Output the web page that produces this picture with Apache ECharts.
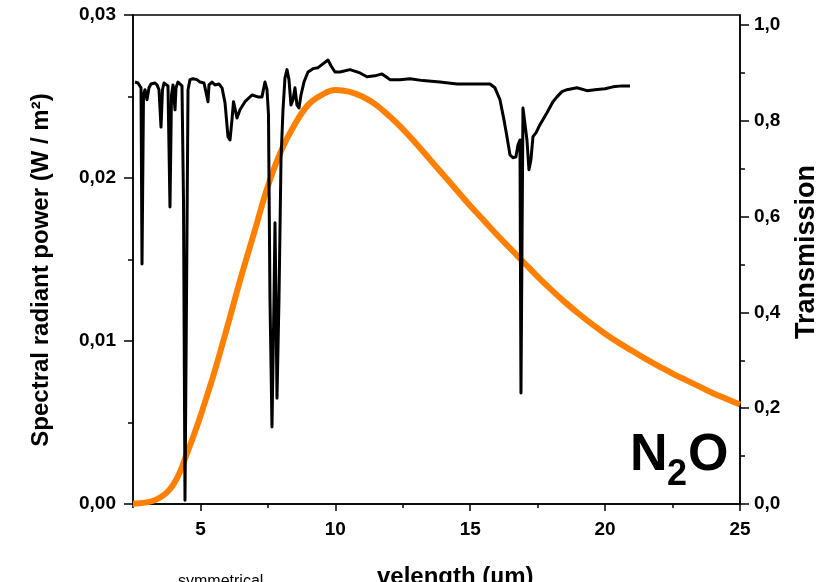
<!DOCTYPE html>
<html>
<head>
<meta charset="utf-8">
<script src="https://cdn.jsdelivr.net/npm/echarts@6/dist/echarts.min.js"></script>
<style>
html, body { margin: 0; padding: 0; background: #fff; }
#chart { width: 836px; height: 582px; }
</style>
</head>
<body>
<div id="chart"></div>
<script>
// N2O transmission spectrum (right axis)
const wavelength = [
    2.574, 2.685, 2.759, 2.797, 2.834, 2.889, 2.945, 3.019, 3.093, 3.167, 3.241, 3.315, 3.39, 3.464, 3.538,
    3.593, 3.649, 3.723, 3.797, 3.871, 3.927, 3.983, 4.057, 4.094, 4.168, 4.242, 4.316, 4.372, 4.427, 4.483,
    4.539, 4.613, 4.724, 4.872, 4.983, 5.132, 5.206, 5.28, 5.317, 5.428, 5.539, 5.613, 5.688, 5.799, 5.91,
    6.021, 6.095, 6.169, 6.225, 6.355, 6.466, 6.651, 6.911, 7.133, 7.281, 7.392, 7.467, 7.522, 7.578, 7.652,
    7.726, 7.763, 7.8, 7.837, 7.911, 7.986, 8.06, 8.134, 8.208, 8.282, 8.356, 8.43, 8.504, 8.578, 8.653,
    8.727, 8.838, 8.986, 9.172, 9.357, 9.542, 9.727, 9.839, 9.987, 10.172, 10.543, 10.914, 11.173, 11.469, 11.729,
    11.877, 12.025, 12.396, 12.767, 13.249, 13.879, 14.509, 15.102, 15.732, 15.917, 16.103, 16.251, 16.362, 16.473, 16.585,
    16.696, 16.77, 16.844, 16.881, 16.955, 17.029, 17.103, 17.177, 17.251, 17.326, 17.437, 17.585, 17.844, 18.067, 18.215,
    18.4, 18.586, 18.956, 19.327, 19.623, 19.994, 20.291, 20.624, 20.921
]
const transmission = [
    0.881, 0.879, 0.875, 0.869, 0.501, 0.854, 0.865, 0.844, 0.869, 0.877, 0.873, 0.879, 0.875, 0.865, 0.787,
    0.865, 0.879, 0.881, 0.873, 0.620, 0.854, 0.875, 0.823, 0.869, 0.881, 0.877, 0.873, 0.635, 0.008, 0.426,
    0.865, 0.886, 0.888, 0.886, 0.881, 0.879, 0.877, 0.840, 0.875, 0.881, 0.875, 0.873, 0.877, 0.869, 0.838,
    0.767, 0.760, 0.802, 0.840, 0.806, 0.823, 0.840, 0.854, 0.850, 0.850, 0.881, 0.865, 0.813, 0.426, 0.161,
    0.426, 0.587, 0.426, 0.221, 0.426, 0.719, 0.823, 0.890, 0.907, 0.886, 0.833, 0.844, 0.869, 0.833, 0.827,
    0.854, 0.881, 0.902, 0.909, 0.911, 0.919, 0.927, 0.915, 0.902, 0.902, 0.907, 0.900, 0.892, 0.894, 0.898,
    0.892, 0.886, 0.886, 0.888, 0.884, 0.881, 0.877, 0.877, 0.877, 0.869, 0.844, 0.802, 0.767, 0.729, 0.723,
    0.725, 0.750, 0.760, 0.232, 0.827, 0.823, 0.760, 0.698, 0.719, 0.767, 0.775, 0.792, 0.817, 0.840, 0.850,
    0.861, 0.865, 0.869, 0.863, 0.865, 0.867, 0.871, 0.873, 0.873
]
// blackbody curve (left axis)
const bbWavelength = [
    2.5, 2.75, 3.0, 3.25, 3.5, 3.75, 4.0, 4.25, 4.5, 4.75, 5.0, 5.5, 6.0, 6.5, 7.0,
    7.5, 8.0, 8.5, 9.0, 9.5, 10.0, 10.5, 11.0, 11.5, 12.0, 12.5, 13.0, 13.5, 14.0, 14.5,
    15.0, 15.5, 16.0, 16.5, 17.0, 17.5, 18.0, 18.5, 19.0, 19.5, 20.0, 20.5, 21.0, 21.5, 22.0,
    22.5, 23.0, 23.5, 24.0, 24.5, 25.0
]
const bbPower = [
    0.00002, 0.00004, 0.0001, 0.0002, 0.0004, 0.0007, 0.0012, 0.0020, 0.0031, 0.0042, 0.0054, 0.0080, 0.0109, 0.0139, 0.0167,
    0.0195, 0.0217, 0.0233, 0.0245, 0.0251, 0.0254, 0.0253, 0.0250, 0.0245, 0.0238, 0.0230, 0.0221, 0.02115, 0.0202, 0.01925,
    0.0183, 0.0174, 0.0165, 0.01565, 0.0148, 0.01395, 0.01315, 0.0124, 0.0117, 0.01105, 0.01045, 0.0099, 0.0094, 0.0089, 0.00845,
    0.0080, 0.0076, 0.0072, 0.0068, 0.00645, 0.0061
]
const xTicks = [5, 10, 15, 20, 25]
const xMinorTicks = [2.5, 7.5, 12.5, 17.5, 22.5]
const transTicks = [0, 0.2, 0.4, 0.6, 0.8, 1.0]
const transMinorTicks = [0.1, 0.3, 0.5, 0.7, 0.9]

const font = "'Liberation Sans', Arial, sans-serif"
const labelStyle = { color: '#000', fontFamily: font, fontWeight: 'bold', fontSize: 19 }
const lineStyle = { color: '#000', width: 1.5 }

const chart = echarts.init(document.getElementById('chart'))
chart.setOption({
    animation: false,
    backgroundColor: '#fff',
    grid: {
        left: 133, right: 96, top: 15, bottom: 78,
        show: true, borderColor: '#000', borderWidth: 1.5
    },
    xAxis: [{
        type: 'value', min: 2.5, max: 25, position: 'bottom',
        axisLine: { lineStyle },
        axisTick: { customValues: xTicks, length: 7, lineStyle },
        axisLabel: Object.assign({ customValues: xTicks, margin: 16 }, labelStyle),
        splitLine: { show: false }
    }, {
        type: 'value', min: 2.5, max: 25, position: 'bottom',
        axisLine: { show: false },
        axisTick: { customValues: xMinorTicks, length: 4, lineStyle },
        axisLabel: { show: false },
        splitLine: { show: false }
    }],
    yAxis: [{
        type: 'value', min: 0, max: 0.03, interval: 0.01, position: 'left',
        axisLine: { show: true, lineStyle },
        axisTick: { show: true, length: 9, lineStyle },
        minorTick: { show: true, splitNumber: 2, length: 5, lineStyle },
        axisLabel: Object.assign({
            margin: 17,
            formatter: v => v.toFixed(2).replace('.', ',')
        }, labelStyle),
        splitLine: { show: false }
    }, {
        type: 'value', min: 0, max: 1.021, position: 'right',
        axisLine: { show: true, lineStyle },
        axisTick: { show: true, customValues: transTicks, length: 9, lineStyle },
        axisLabel: Object.assign({
            customValues: transTicks, margin: 14,
            formatter: v => v.toFixed(1).replace('.', ',')
        }, labelStyle),
        splitLine: { show: false }
    }, {
        type: 'value', min: 0, max: 1.021, position: 'right',
        axisLine: { show: false },
        axisTick: { show: true, customValues: transMinorTicks, length: 5, lineStyle },
        axisLabel: { show: false },
        splitLine: { show: false }
    }],
    series: [{
        name: 'blackbody',
        type: 'line',
        xAxisIndex: 0, yAxisIndex: 0,
        smooth: 0.4,
        showSymbol: false,
        lineStyle: { color: '#ff7f00', width: 6 },
        data: bbWavelength.map((w, i) => [w, bbPower[i]]),
        z: 2
    }, {
        name: 'N2O',
        type: 'line',
        xAxisIndex: 0, yAxisIndex: 1,
        showSymbol: false,
        lineStyle: { color: '#000', width: 3, join: 'round' },
        data: wavelength.map((w, i) => [w, transmission[i]]),
        z: 3
    }],
    graphic: [
        { type: 'text', x: 41, y: 270, rotation: Math.PI / 2,
          style: { text: 'Spectral radiant power (W / m²)', font: 'bold 24px ' + font, fill: '#000', align: 'center', verticalAlign: 'middle' } },
        { type: 'text', x: 807, y: 252, rotation: Math.PI / 2,
          style: { text: 'Transmission', font: 'bold 27px ' + font, fill: '#000', align: 'center', verticalAlign: 'middle' } },
        { type: 'text', x: 630, y: 456,
          style: { text: 'N', font: 'bold 52px ' + font, fill: '#000', align: 'left', verticalAlign: 'middle' } },
        { type: 'text', x: 667, y: 475,
          style: { text: '2', font: 'bold 36px ' + font, fill: '#000', align: 'left', verticalAlign: 'middle' } },
        { type: 'text', x: 688, y: 456,
          style: { text: 'O', font: 'bold 52px ' + font, fill: '#000', align: 'left', verticalAlign: 'middle' } },
        { type: 'text', x: 377, y: 565,
          style: { text: 'velength (µm)', font: 'bold 24px ' + font, fill: '#000', align: 'left', verticalAlign: 'top' } },
        { type: 'text', x: 178, y: 574,
          style: { text: 'symmetrical', font: '16px ' + font, fill: '#000', align: 'left', verticalAlign: 'top' } }
    ]
})
</script>
</body>
</html>
